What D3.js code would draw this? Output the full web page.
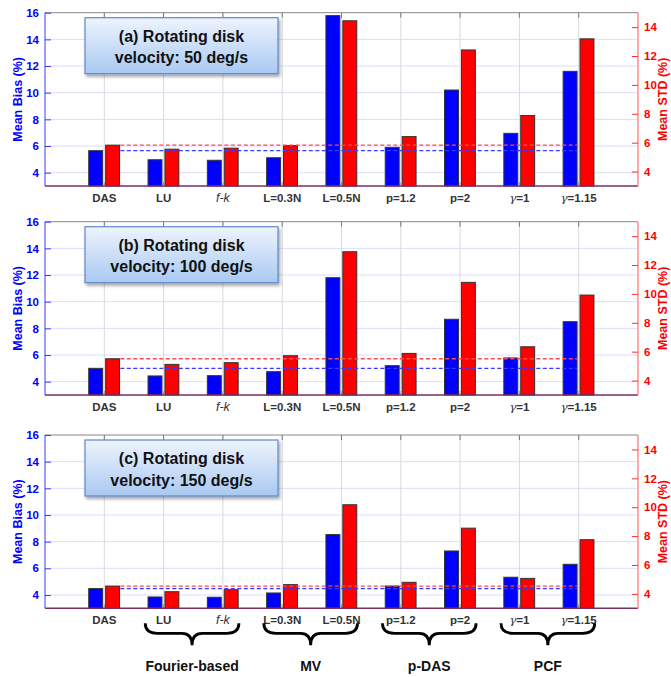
<!DOCTYPE html>
<html>
<head>
<meta charset="utf-8">
<script src="https://cdn.jsdelivr.net/npm/d3@7"></script>
<style>
    body { margin: 0; background: #fff; }
    svg { display: block; font-family: "Liberation Sans", Arial, sans-serif; }
</style>
</head>
<body>
<svg id="chart" width="671" height="677"></svg>
<script>
var categories = ["DAS", "LU", "f-k", "L=0.3N", "L=0.5N", "p=1.2", "p=2", "γ=1", "γ=1.15"];

var biasA = [5.65, 4.97, 4.93, 5.12, 15.78, 5.9, 10.2, 6.95, 11.6];
var stdA = [5.83, 5.55, 5.62, 5.8, 14.44, 6.42, 12.42, 7.88, 13.19];
var biasB = [5.0, 4.43, 4.45, 4.75, 11.8, 5.2, 8.68, 5.78, 8.5];
var stdB = [5.51, 5.12, 5.24, 5.72, 12.92, 5.88, 10.8, 6.34, 9.92];
var biasC = [4.48, 3.85, 3.83, 4.15, 8.53, 4.67, 7.3, 5.33, 6.3];
var stdC = [4.54, 4.15, 4.29, 4.64, 10.17, 4.8, 8.55, 5.07, 7.75];

var titles = [
    ["(a) Rotating disk", "velocity: 50 deg/s"],
    ["(b) Rotating disk", "velocity: 100 deg/s"],
    ["(c) Rotating disk", "velocity: 150 deg/s"]
];

var leftTicks = [4, 6, 8, 10, 12, 14, 16];
var rightTicks = [4, 6, 8, 10, 12, 14];

var groupNames = ["Fourier-based", "MV", "p-DAS", "PCF"];
var groupFirst = [1, 3, 5, 7];
var groupLast = [2, 4, 6, 8];

var panels = [
    { top: 12.7, bias: biasA, std: stdA, title: titles[0] },
    { top: 221.7, bias: biasB, std: stdB, title: titles[1] },
    { top: 435, bias: biasC, std: stdC, title: titles[2] }
];

var left = 45, right = 638, ph = 173.3;
var svg = d3.select("#chart");

var x = d3.scaleLinear().domain([0, categories.length + 1]).range([left, right]);
var barW = x(0.235) - x(0);

var defs = svg.append("defs");
var grad = defs.append("linearGradient")
    .attr("id", "boxgrad")
    .attr("x1", 0).attr("y1", 0).attr("x2", 0).attr("y2", 1);
grad.append("stop").attr("offset", "0%").attr("stop-color", "#eef4fd");
grad.append("stop").attr("offset", "100%").attr("stop-color", "#a9c9f2");
var shadow = defs.append("filter").attr("id", "shadow")
    .attr("x", "-10%").attr("y", "-10%").attr("width", "130%").attr("height", "140%");
shadow.append("feDropShadow")
    .attr("dx", 1.5).attr("dy", 2.5).attr("stdDeviation", 1.5)
    .attr("flood-color", "#000").attr("flood-opacity", 0.35);

function tickLabel(sel, d) {
    if (d.indexOf("γ") === 0) {
        sel.append("tspan").attr("font-weight", "normal").attr("font-style", "italic")
            .attr("font-family", "DejaVu Serif").text("γ");
        sel.append("tspan").text(d.slice(1));
    } else if (d === "f-k") {
        sel.attr("font-style", "italic").attr("font-weight", "normal").attr("font-size", 12.5).text(d);
    } else {
        sel.text(d);
    }
}

panels.forEach(function(p, pi) {
    var top = p.top, bottom = top + ph;
    var yL = d3.scaleLinear().domain([3, 16]).range([bottom, top]);
    var yR = d3.scaleLinear().domain([3, 15]).range([bottom, top]);
    var g = svg.append("g").attr("class", "panel");

    // grid
    g.selectAll(".hgrid")
        .data(leftTicks.slice(0, -1))
        .enter().append("line")
        .attr("x1", left).attr("x2", right)
        .attr("y1", function(d) { return yL(d); })
        .attr("y2", function(d) { return yL(d); })
        .attr("stroke", "#dcdcff").attr("stroke-width", 1);
    g.selectAll(".vgrid")
        .data(categories)
        .enter().append("line")
        .attr("x1", function(d, i) { return x(i + 1); })
        .attr("x2", function(d, i) { return x(i + 1); })
        .attr("y1", top).attr("y2", bottom)
        .attr("stroke", "#dadade").attr("stroke-width", 1);

    // bars
    g.selectAll(".bbar")
        .data(p.bias)
        .enter().append("rect")
        .attr("x", function(d, i) { return x(i + 1 - 0.145) - barW / 2; })
        .attr("width", barW)
        .attr("y", function(d) { return yL(d); })
        .attr("height", function(d) { return bottom - yL(d); })
        .attr("fill", "#0000ff").attr("stroke", "#333").attr("stroke-width", 1);
    g.selectAll(".rbar")
        .data(p.std)
        .enter().append("rect")
        .attr("x", function(d, i) { return x(i + 1 + 0.14) - barW / 2; })
        .attr("width", barW)
        .attr("y", function(d) { return yR(d); })
        .attr("height", function(d) { return bottom - yR(d); })
        .attr("fill", "#ff0000").attr("stroke", "#333").attr("stroke-width", 1);

    // DAS reference lines
    g.append("line")
        .attr("x1", x(1.27)).attr("x2", x(8.97))
        .attr("y1", yR(p.std[0])).attr("y2", yR(p.std[0]))
        .attr("stroke", "#ff4a4a").attr("stroke-width", 1.3)
        .attr("stroke-dasharray", "4,2.5");
    g.append("line")
        .attr("x1", x(1.27)).attr("x2", x(8.97))
        .attr("y1", yL(p.bias[0])).attr("y2", yL(p.bias[0]))
        .attr("stroke", "#3a3aff").attr("stroke-width", 1.3)
        .attr("stroke-dasharray", "4,2.5");

    // frame
    g.append("line").attr("x1", left).attr("x2", right).attr("y1", top).attr("y2", top)
        .attr("stroke", "#888").attr("stroke-width", 1);
    g.selectAll(".ttick")
        .data(categories)
        .enter().append("line")
        .attr("x1", function(d, i) { return x(i + 1); })
        .attr("x2", function(d, i) { return x(i + 1); })
        .attr("y1", top).attr("y2", top + 5)
        .attr("stroke", "#777").attr("stroke-width", 1);
    g.selectAll(".btick")
        .data(categories)
        .enter().append("line")
        .attr("x1", function(d, i) { return x(i + 1); })
        .attr("x2", function(d, i) { return x(i + 1); })
        .attr("y1", bottom).attr("y2", bottom - 4)
        .attr("stroke", "#999").attr("stroke-width", 1);
    g.append("line").attr("x1", left).attr("x2", right).attr("y1", bottom).attr("y2", bottom)
        .attr("stroke", "#7a2d60").attr("stroke-width", 1.5);

    // left axis
    var axL = g.append("g").attr("transform", "translate(" + left + ",0)")
        .call(d3.axisLeft(yL).tickValues(leftTicks).tickSize(-6).tickPadding(6));
    axL.select(".domain").attr("stroke", "#3b3bff").attr("d", "M0," + bottom + "V" + top);
    axL.selectAll(".tick line").attr("stroke", "#3b3bff");
    axL.selectAll(".tick text").attr("fill", "#0000ff")
        .attr("font-family", "Liberation Sans, Arial, sans-serif")
        .attr("font-size", 11.5).attr("font-weight", "bold");

    // right axis
    var axR = g.append("g").attr("transform", "translate(" + right + ",0)")
        .call(d3.axisRight(yR).tickValues(rightTicks).tickSize(-6).tickPadding(6));
    axR.select(".domain").attr("stroke", "#ff8c8c").attr("stroke-width", 1.5)
        .attr("d", "M0," + bottom + "V" + top);
    axR.selectAll(".tick line").attr("stroke", "#ff3030");
    axR.selectAll(".tick text").attr("fill", "#ff0000")
        .attr("font-family", "Liberation Sans, Arial, sans-serif")
        .attr("font-size", 11.5).attr("font-weight", "bold");

    // axis titles
    g.append("text")
        .attr("transform", "translate(22," + (top + ph / 2) + ") rotate(-90)")
        .attr("text-anchor", "middle")
        .attr("fill", "#0000ff").attr("font-size", 12.5).attr("font-weight", "bold")
        .text("Mean Bias (%)");
    g.append("text")
        .attr("transform", "translate(667," + (top + ph / 2) + ") rotate(-90)")
        .attr("text-anchor", "middle")
        .attr("fill", "#ff0000").attr("font-size", 12.5).attr("font-weight", "bold")
        .text("Mean STD (%)");

    // category labels
    g.selectAll(".xlab")
        .data(categories)
        .enter().append("text")
        .attr("x", function(d, i) { return x(i + 1); })
        .attr("y", bottom + 15.5)
        .attr("text-anchor", "middle")
        .attr("fill", "#333").attr("font-size", 11.5).attr("font-weight", "bold")
        .each(function(d) { tickLabel(d3.select(this), d); });

    // title box
    var bx = 85, bw = 193, by = top + 5, bh = 56;
    g.append("rect")
        .attr("x", bx).attr("y", by).attr("width", bw).attr("height", bh)
        .attr("fill", "url(#boxgrad)").attr("stroke", "#5f88cc").attr("stroke-width", 1.2)
        .attr("filter", "url(#shadow)");
    g.selectAll(".ttl")
        .data(p.title)
        .enter().append("text")
        .attr("x", bx + bw / 2)
        .attr("y", function(d, i) { return by + 24 + i * 21.5; })
        .attr("text-anchor", "middle")
        .attr("fill", "#111").attr("font-size", 16).attr("font-weight", "bold")
        .text(function(d) { return d; });

    // group braces under the last panel
    if (pi === panels.length - 1) {
        var by0 = bottom + 15;
        groupNames.forEach(function(name, k) {
            var x0 = x(groupFirst[k] + 1 - 0.31), x1 = x(groupLast[k] + 1 + 0.27);
            var mid = (x0 + x1) / 2;
            var path = d3.path();
            path.moveTo(x0, by0);
            path.quadraticCurveTo(x0, by0 + 10, x0 + 12, by0 + 10);
            path.lineTo(mid - 10, by0 + 10);
            path.quadraticCurveTo(mid, by0 + 10, mid, by0 + 22);
            path.quadraticCurveTo(mid, by0 + 10, mid + 10, by0 + 10);
            path.lineTo(x1 - 12, by0 + 10);
            path.quadraticCurveTo(x1, by0 + 10, x1, by0);
            svg.append("path")
                .attr("d", path.toString())
                .attr("fill", "none").attr("stroke", "#000").attr("stroke-width", 2.8);
            svg.append("text")
                .attr("x", mid).attr("y", by0 + 48)
                .attr("text-anchor", "middle")
                .attr("fill", "#111").attr("font-size", 14).attr("font-weight", "bold")
                .text(name);
        });
    }
});
</script>
</body>
</html>
